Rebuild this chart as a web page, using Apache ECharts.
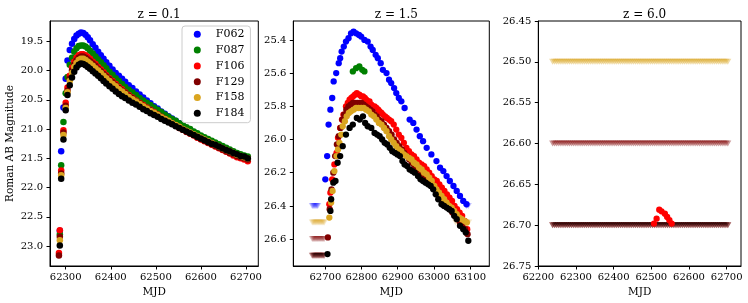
<!DOCTYPE html>
<html><head><meta charset="utf-8">
<script src="https://cdn.jsdelivr.net/npm/echarts@6/dist/echarts.min.js"></script>
<style>html,body{margin:0;padding:0;background:#fff}#c{width:748px;height:303px}</style>
</head><body><div id="c"></div>
<script>
// ---------- DATA ----------
const filters = ['F062','F087','F106','F129','F158','F184'];
const colors  = ['#0000ff','#008000','#ff0000','#800000','#daa520','#000000'];
const titles  = ['z = 0.1','z = 1.5','z = 6.0'];

// z = 0.1 (shared epochs)
const t1 = [62285,62287,62290,62295,62300,62304,62309,62314,62319,62324,62329,62334,62339,62344,62349,62354,62360,62366,62372,62378,62384,62390,62397,62404,62411,62418,62425,62432,62440,62448,62456,62464,62472,62480,62488,62496,62504,62512,62520,62528,62536,62544,62552,62560,62568,62576,62584,62592,62600,62608,62616,62624,62632,62640,62648,62656,62664,62672,62680,62688,62696,62704];
const m1_F062 = [null,22.74,21.38,20.63,20.14,19.83,19.65,19.54,19.46,19.40,19.37,19.35,19.36,19.39,19.43,19.48,19.55,19.61,19.68,19.74,19.80,19.86,19.92,19.98,20.04,20.09,20.14,20.19,20.25,20.30,20.36,20.41,20.46,20.51,20.56,20.61,20.65,20.70,20.74,20.78,20.82,20.86,20.90,20.94,20.98,21.02,21.05,21.09,21.13,21.16,21.19,21.23,21.26,21.29,21.32,21.35,21.38,21.41,21.43,21.46,21.48,21.51];
const m1_F087 = [null,22.80,21.62,20.88,20.39,20.11,19.90,19.78,19.68,19.62,19.58,19.57,19.57,19.59,19.62,19.66,19.71,19.76,19.81,19.86,19.91,19.96,20.02,20.07,20.13,20.18,20.23,20.28,20.33,20.37,20.42,20.47,20.51,20.55,20.59,20.63,20.67,20.71,20.75,20.79,20.83,20.86,20.90,20.93,20.97,21.00,21.04,21.07,21.11,21.14,21.17,21.20,21.23,21.26,21.29,21.32,21.35,21.38,21.41,21.43,21.45,21.47];
const m1_F106 = [23.12,22.73,21.71,21.02,20.55,20.29,20.09,19.95,19.85,19.78,19.74,19.72,19.72,19.74,19.77,19.80,19.85,19.89,19.94,19.98,20.03,20.08,20.13,20.18,20.23,20.28,20.32,20.37,20.42,20.46,20.51,20.55,20.59,20.63,20.67,20.71,20.75,20.79,20.83,20.87,20.91,20.94,20.98,21.01,21.05,21.08,21.11,21.15,21.18,21.21,21.24,21.27,21.30,21.33,21.36,21.39,21.42,21.45,21.48,21.50,21.52,21.55];
const m1_F129 = [23.16,22.84,21.76,21.06,20.60,20.34,20.14,20.00,19.90,19.83,19.78,19.76,19.76,19.78,19.81,19.84,19.88,19.92,19.97,20.01,20.06,20.10,20.15,20.20,20.25,20.30,20.34,20.38,20.43,20.47,20.52,20.56,20.60,20.64,20.68,20.72,20.76,20.80,20.83,20.87,20.90,20.94,20.97,21.01,21.04,21.07,21.10,21.14,21.17,21.20,21.23,21.26,21.29,21.32,21.35,21.38,21.41,21.43,21.46,21.48,21.50,21.52];
const m1_F158 = [null,22.90,21.79,21.10,20.64,20.37,20.18,20.04,19.94,19.87,19.82,19.80,19.80,19.82,19.85,19.88,19.92,19.96,20.00,20.04,20.09,20.13,20.18,20.23,20.27,20.32,20.36,20.40,20.45,20.49,20.53,20.57,20.61,20.65,20.69,20.72,20.76,20.80,20.83,20.86,20.90,20.93,20.96,21.00,21.03,21.06,21.09,21.12,21.15,21.18,21.21,21.24,21.27,21.30,21.33,21.36,21.38,21.41,21.44,21.46,21.48,21.50];
const m1_F184 = [null,22.99,21.85,21.18,20.68,20.42,20.25,20.12,20.02,19.95,19.90,19.88,19.89,19.91,19.94,19.97,20.01,20.05,20.09,20.13,20.18,20.22,20.27,20.31,20.36,20.40,20.44,20.47,20.51,20.55,20.58,20.62,20.66,20.69,20.73,20.76,20.79,20.83,20.86,20.89,20.92,20.95,20.98,21.01,21.04,21.07,21.10,21.13,21.16,21.19,21.22,21.25,21.27,21.30,21.33,21.36,21.38,21.41,21.43,21.46,21.47,21.50];

// z = 1.5 detections
const t2_F062 = [62700,62705,62709,62714,62719,62723,62730,62737,62741,62745,62751,62757,62764,62771,62778,62785,62793,62799,62808,62817,62825,62831,62839,62845,62853,62859,62869,62876,62882,62890,62896,62903,62910,62919,62933,62943,62952,62961,62970,62980,62993,63007,63017,63026,63035,63044,63054,63063,63072,63081,63090];
const m2_F062 = [26.24,26.10,25.91,25.82,25.75,25.65,25.60,25.54,25.51,25.47,25.44,25.41,25.39,25.36,25.35,25.36,25.37,25.38,25.40,25.41,25.44,25.46,25.49,25.51,25.54,25.58,25.60,25.64,25.66,25.69,25.72,25.75,25.77,25.81,25.88,25.90,25.94,25.98,26.01,26.05,26.09,26.13,26.17,26.19,26.22,26.25,26.28,26.31,26.34,26.37,26.39];
const t2_F087 = [62776,62785,62794,62802,62808];
const m2_F087 = [25.59,25.57,25.56,25.58,25.59];
const t2_F106 = [62711,62714,62719,62725,62731,62735,62741,62746,62750,62757,62762,62767,62772,62777,62782,62787,62794,62799,62804,62809,62813,62818,62822,62827,62831,62836,62841,62846,62850,62855,62859,62865,62870,62876,62882,62889,62896,62903,62910,62917,62924,62931,62938,62945,62952,62959,62966,62973,62980,62987,62994,63001,63008,63015,63022,63029,63036,63043,63050,63057,63064,63071,63078,63085,63092];
const m2_F106 = [26.39,26.32,26.24,26.15,26.08,25.99,25.93,25.88,25.85,25.80,25.78,25.76,25.75,25.74,25.73,25.72,25.73,25.74,25.74,25.75,25.76,25.77,25.77,25.79,25.80,25.80,25.81,25.82,25.83,25.84,25.85,25.86,25.87,25.88,25.89,25.91,25.94,25.97,25.99,26.02,26.05,26.07,26.09,26.10,26.12,26.14,26.15,26.16,26.18,26.20,26.22,26.24,26.25,26.27,26.29,26.31,26.33,26.35,26.37,26.40,26.42,26.44,26.46,26.49,26.54];
const t2_F129 = [62707,62712,62717,62722,62727,62732,62737,62742,62747,62752,62758,62764,62770,62776,62782,62788,62794,62800,62806,62812,62818,62824,62830,62836,62842,62848,62855,62862,62869,62876,62883,62890,62897,62904,62911,62918,62925,62932,62939,62946,62953,62960,62967,62974,62981,62988,62995,63002,63009,63016,63023,63030,63037,63044,63051,63058,63065,63072,63079,63086,63093];
const m2_F129 = [26.59,26.42,26.30,26.20,26.10,26.03,25.98,25.93,25.88,25.85,25.82,25.80,25.79,25.78,25.78,25.78,25.78,25.78,25.79,25.80,25.81,25.82,25.83,25.85,25.86,25.88,25.89,25.91,25.93,25.95,25.97,26.00,26.02,26.04,26.06,26.08,26.10,26.12,26.14,26.16,26.17,26.19,26.21,26.22,26.24,26.26,26.28,26.30,26.32,26.34,26.36,26.38,26.40,26.42,26.44,26.46,26.48,26.50,26.52,26.54,26.57];
const t2_F158 = [62711,62716,62720,62725,62731,62735,62739,62744,62748,62754,62759,62765,62771,62778,62785,62792,62799,62806,62813,62820,62827,62834,62841,62848,62855,62862,62869,62876,62882,62889,62896,62903,62910,62917,62924,62931,62938,62945,62952,62959,62966,62973,62980,62987,62994,63001,63007,63014,63021,63028,63035,63042,63049,63056,63063,63070,63077,63084,63091];
const m2_F158 = [26.47,26.38,26.31,26.19,26.10,26.06,26.02,25.97,25.92,25.89,25.86,25.84,25.83,25.82,25.81,25.81,25.81,25.81,25.82,25.83,25.85,25.86,25.88,25.90,25.91,25.93,25.95,25.98,26.00,26.02,26.04,26.06,26.07,26.09,26.10,26.11,26.12,26.14,26.15,26.17,26.18,26.20,26.21,26.23,26.25,26.28,26.30,26.32,26.34,26.36,26.38,26.40,26.41,26.43,26.45,26.47,26.48,26.49,26.50];
const t2_F184 = [62706,62714,62716,62722,62728,62734,62741,62748,62757,62767,62776,62787,62795,62804,62810,62817,62827,62836,62843,62850,62857,62864,62871,62878,62885,62892,62899,62906,62913,62919,62926,62933,62940,62947,62956,62963,62970,62977,62984,62991,62998,63005,63012,63021,63028,63035,63042,63049,63056,63063,63072,63081,63088,63095];
const m2_F184 = [26.69,26.43,26.36,26.26,26.25,26.14,26.10,26.04,25.97,25.93,25.91,25.87,25.88,25.86,25.90,25.92,25.93,25.96,25.97,25.98,26.00,26.02,26.03,26.05,26.07,26.08,26.09,26.10,26.13,26.15,26.16,26.18,26.19,26.20,26.22,26.24,26.25,26.26,26.27,26.28,26.30,26.33,26.36,26.39,26.40,26.41,26.42,26.43,26.46,26.48,26.52,26.54,26.56,26.61];

// upper limits (downward triangles)
const limFilters = ['F062','F106','F129','F158','F184'];
const limMags    = [26.40, 26.70, 26.60, 26.50, 26.70];
const lim2_left_F062  = [62664,62667,62670,62673,62676,62679];
const lim2_left_other = [62664,62667,62670,62673,62676,62679,62682,62685,62688,62691,62694,62697];
const lim2_right_F062 = [63090,63095];
const lim2_right_F158 = [63060,63066,63072,63078,63084,63090,63096];
const lim6 = [62238,62243,62248,62253,62258,62263,62268,62273,62278,62283,
  62288,62293,62298,62303,62308,62313,62318,62323,62328,62333,
  62338,62343,62348,62353,62358,62363,62368,62373,62378,62383,
  62388,62393,62398,62403,62408,62413,62418,62423,62428,62433,
  62438,62443,62448,62453,62458,62463,62468,62473,62478,62483,
  62488,62493,62498,62503,62508,62513,62518,62523,62528,62533,
  62538,62543,62548,62553,62558,62563,62568,62573,62578,62583,
  62588,62593,62598,62603,62608,62613,62618,62623,62628,62633,
  62638,62643,62648,62653,62658,62663,62668,62673,62678,62683,
  62688,62693,62698,62703];

// z = 6.0 detections
const t6_F106 = [62507,62514,62521,62527,62536,62542,62548,62554];
const m6_F106 = [26.698,26.692,26.681,26.683,26.686,26.690,26.694,26.698];

// tick labels
const xTicks = [[62300,62400,62500,62600,62700],[62700,62800,62900,63000,63100],[62200,62300,62400,62500,62600,62700]];
const yTicks = [[19.5,20.0,20.5,21.0,21.5,22.0,22.5,23.0],[25.4,25.6,25.8,26.0,26.2,26.4,26.6],[26.45,26.50,26.55,26.60,26.65,26.70,26.75]];
const yDec = [1,1,2];

// ---------- CHART ----------
const FONT = 'DejaVu Serif';
const grids = [
  {left:50, top:21, width:208.3, height:245},
  {left:293.3, top:21, width:196, height:245},
  {left:538.3, top:21, width:202.7, height:245}
];
const xRange = [[62265.2,62727.3],[62611.5,63153],[62200,62738]];
const yRange = [[19.153,23.341],[25.286,26.762],[26.45,26.75]];

function pairs(t,m){ return t.map((x,i)=>[x,m[i]]).filter(p=>p[1]!=null); }
function limPairs(t,mag){ return t.map(x=>[x,mag]); }
const colorOf = f => colors[filters.indexOf(f)];

const series = [];
function dots(name, data, gi, size){
  series.push({type:'scatter', name, xAxisIndex:gi, yAxisIndex:gi, data,
    symbol:'circle', symbolSize:size, itemStyle:{color:colorOf(name), opacity:1},
    emphasis:{disabled:true}, z:2});
}
function tris(name, data, gi, op){
  series.push({type:'scatter', name:name+' limit', xAxisIndex:gi, yAxisIndex:gi, data,
    symbol:'triangle', symbolRotate:180, symbolSize:[7,6],
    itemStyle:{color:colorOf(name), opacity:op}, emphasis:{disabled:true}, z:1});
}
// panel 1
const m1 = {F062:m1_F062,F087:m1_F087,F106:m1_F106,F129:m1_F129,F158:m1_F158,F184:m1_F184};
filters.forEach(f=>dots(f, pairs(t1, m1[f]), 0, 6.5));
// panel 2
const t2 = {F062:t2_F062,F087:t2_F087,F106:t2_F106,F129:t2_F129,F158:t2_F158,F184:t2_F184};
const m2 = {F062:m2_F062,F087:m2_F087,F106:m2_F106,F129:m2_F129,F158:m2_F158,F184:m2_F184};
limFilters.forEach((f,i)=>{
  const left = f==='F062' ? lim2_left_F062 : lim2_left_other;
  tris(f, limPairs(left, limMags[i]), 1, 0.25);
  if (f==='F062') tris(f, limPairs(lim2_right_F062, limMags[i]), 1, 0.25);
  if (f==='F158') tris(f, limPairs(lim2_right_F158, limMags[i]), 1, 0.25);
});
filters.forEach(f=>dots(f, pairs(t2[f], m2[f]), 1, 6.3));
// panel 3
limFilters.forEach((f,i)=>tris(f, limPairs(lim6, limMags[i]), 2, 0.4));
dots('F106', pairs(t6_F106, m6_F106), 2, 6.3);

const axText = {fontFamily:FONT, fontSize:10, color:'#000'};
const xAxes = grids.map((g,i)=>({
  type:'value', gridIndex:i, min:xRange[i][0], max:xRange[i][1],
  name:'MJD', nameLocation:'middle', nameGap:20,
  nameTextStyle:{fontFamily:FONT, fontSize:10.5, color:'#000'},
  axisLine:{show:true, onZero:false, lineStyle:{color:'#000', width:1}},
  axisTick:{show:true, inside:false, length:3.5, lineStyle:{color:'#000'}, customValues:xTicks[i]},
  axisLabel:Object.assign({margin:6, customValues:xTicks[i], formatter:v=>String(Math.round(v))}, axText),
  splitLine:{show:false}
}));
const yAxes = grids.map((g,i)=>({
  type:'value', gridIndex:i, inverse:true, min:yRange[i][0], max:yRange[i][1],
  name: i===0 ? 'Roman AB Magnitude' : '', nameLocation:'middle', nameGap:34, nameRotate:90,
  nameTextStyle:{fontFamily:FONT, fontSize:10.5, color:'#000'},
  axisLine:{show:true, onZero:false, lineStyle:{color:'#000', width:1}},
  axisTick:{show:true, inside:false, length:3.5, lineStyle:{color:'#000'}, customValues:yTicks[i]},
  axisLabel:Object.assign({margin:7, customValues:yTicks[i], formatter:v=>Number(v).toFixed(yDec[i])}, axText),
  splitLine:{show:false}
}));

const chart = echarts.init(document.getElementById('c'), null, {renderer:'canvas'});
chart.setOption({
  animation:false,
  backgroundColor:'#fff',
  title: grids.map((g,i)=>({text:titles[i], left:g.left+g.width/2, top:4, textAlign:'center',
    textStyle:{fontFamily:FONT, fontSize:12, fontWeight:'normal', color:'#000'}})),
  grid: grids.map(g=>Object.assign({show:true, borderColor:'#000', borderWidth:1, backgroundColor:'transparent', containLabel:false}, g)),
  xAxis:xAxes, yAxis:yAxes,
  legend:{
    data: filters.map(f=>({name:f, icon:'circle'})),
    orient:'vertical', left:182, top:26,
    itemWidth:7, itemHeight:7, itemGap:3.8,
    padding:[2.3,6,3.4,11.8],
    borderColor:'#cccccc', borderWidth:1, borderRadius:3, backgroundColor:'rgba(255,255,255,0.8)',
    textStyle:{fontFamily:FONT, fontSize:11, color:'#000', lineHeight:12, padding:[0,0,0,10]},
    selectedMode:false
  },
  series
});
</script></body></html>
